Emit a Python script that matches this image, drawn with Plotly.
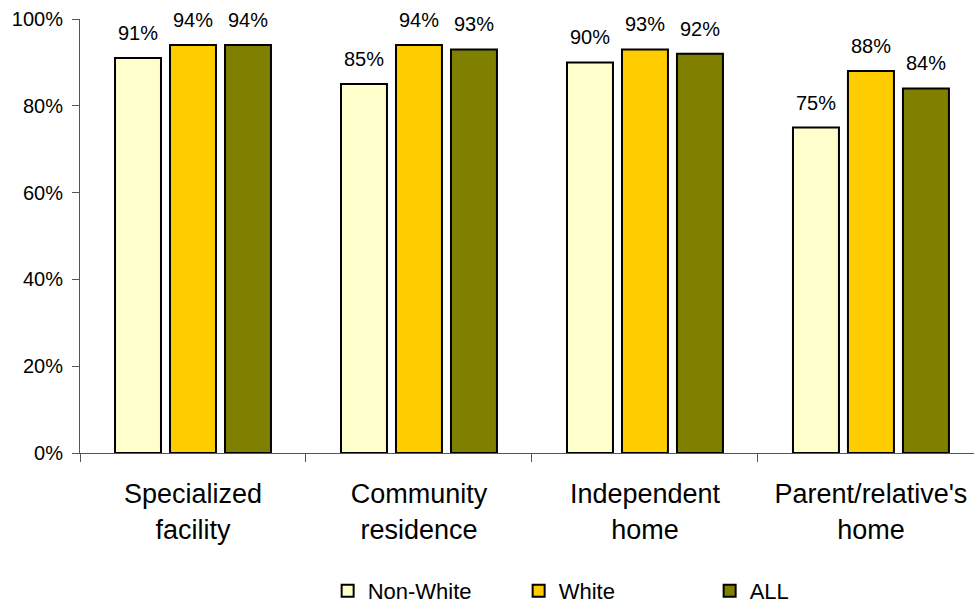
import plotly.graph_objects as go

# Share of respondents by living arrangement and group
categories = ["Specialized<br>facility", "Community<br>residence",
              "Independent<br>home", "Parent/relative's<br>home"]
non_white = [0.91, 0.85, 0.90, 0.75]
white = [0.94, 0.94, 0.93, 0.88]
all_groups = [0.94, 0.93, 0.92, 0.84]

series = [
    ("Non-White", non_white, "#FFFFCC"),
    ("White", white, "#FFCC00"),
    ("ALL", all_groups, "#808000"),
]

FONT = "Liberation Sans, Arial, sans-serif"
BARGAP = 0.27
BARGROUPGAP = 0.164
xpos = list(range(len(categories)))

fig = go.Figure()
n = len(series)
slot = (1 - BARGAP) / n  # width of each bar's slot inside a group, in x units
for k, (name, vals, color) in enumerate(series):
    fig.add_trace(go.Bar(
        name=name,
        x=xpos,
        y=vals,
        marker=dict(color=color, line=dict(color="#000000", width=2)),
    ))
    # value labels sit a little above each bar
    offset = (k - (n - 1) / 2) * slot
    for xi, v in zip(xpos, vals):
        fig.add_annotation(
            x=xi + offset, y=v, xref="x", yref="y",
            text=f"{v:.0%}", showarrow=False,
            yanchor="bottom", yshift=12,
            font=dict(family=FONT, size=20, color="#000000"),
        )

fig.update_layout(
    width=974,
    height=604,
    margin=dict(l=80, r=0, t=19, b=151, autoexpand=False),
    paper_bgcolor="white",
    plot_bgcolor="white",
    barmode="group",
    bargap=BARGAP,
    bargroupgap=BARGROUPGAP,
    font=dict(family=FONT, color="#000000"),
    legend=dict(
        orientation="h",
        x=0.277, xanchor="left",
        yref="paper", y=-0.318, yanchor="middle",
        font=dict(family=FONT, size=22, color="#000000"),
        entrywidth=146,
        itemwidth=30,
        traceorder="normal",
    ),
    showlegend=True,
)

fig.update_yaxes(
    range=[0, 1],
    tickvals=[0, 0.2, 0.4, 0.6, 0.8, 1.0],
    tickformat=".0%",
    ticks="outside",
    ticklen=7,
    tickcolor="#555555",
    ticklabelstandoff=5,
    showline=True,
    linecolor="#555555",
    linewidth=1,
    showgrid=False,
    zeroline=False,
    tickfont=dict(family=FONT, size=20, color="#000000"),
)

fig.update_xaxes(
    range=[-0.5, 3.456],
    tickvals=xpos,
    ticktext=categories,
    ticks="",
    ticklabelstandoff=17,
    minor=dict(tick0=-0.5, dtick=1, ticks="outside", ticklen=8,
               tickcolor="#555555", showgrid=False),
    showline=True,
    linecolor="#555555",
    linewidth=1,
    showgrid=False,
    zeroline=False,
    tickfont=dict(family=FONT, size=27, color="#000000"),
)

fig.write_html("out.html")
